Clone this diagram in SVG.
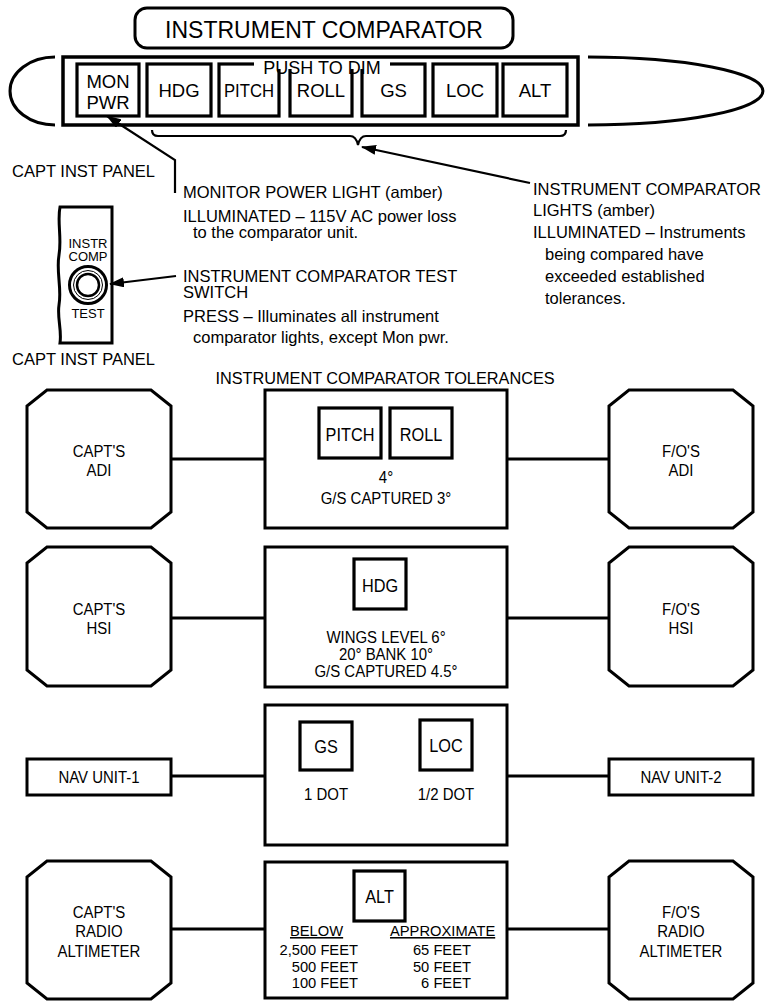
<svg xmlns="http://www.w3.org/2000/svg" width="771" height="1001" viewBox="0 0 771 1001">
  <style>
    text { font-family: "Liberation Sans", Arial, sans-serif; fill: #000; }
    .frame { fill: #fff; stroke: #000; stroke-width: 3; stroke-linejoin: miter; }
    .btn { fill: #fff; stroke: #000; stroke-width: 3.2; }
    .wire { fill: none; stroke: #000; stroke-width: 3; }
    .lead { fill: none; stroke: #000; stroke-width: 2.2; }
    .note { font-size: 16.5px; }
    .cap { font-size: 16.5px; }
    .btxt { font-size: 18.5px; text-anchor: middle; }
    /* narrow lettering used inside the tolerance blocks */
    .ntxt { font-size: 17px; text-anchor: middle; transform: scaleX(0.88); transform-box: fill-box; transform-origin: center; }
    .bt { font-size: 18.5px; }
    .small { font-size: 15.5px; transform: scaleX(0.95); transform-box: fill-box; }
    .start { transform-origin: left; }
    .end { text-anchor: end; transform-origin: right; }
  </style>
  <defs>
    <marker id="arrow" markerUnits="userSpaceOnUse" markerWidth="16" markerHeight="10" refX="14" refY="5" orient="auto">
      <path d="M0,0 L15,5 L0,10 Z" fill="#000"/>
    </marker>
  </defs>

  <!-- comparator light panel -->
  <g id="panel-title">
    <rect x="135" y="8" width="378" height="40" rx="12" class="frame"/>
    <text x="324" y="38" font-size="23" text-anchor="middle">INSTRUMENT COMPARATOR</text>
  </g>
  <g id="light-panel">
    <path d="M55 57 A45 34 0 0 0 55 125" class="wire"/>
    <path d="M588 57 A175 34 0 0 1 588 125" class="wire"/>
    <rect x="63" y="57" width="515" height="68" fill="#fff" stroke="#000" stroke-width="3.5"/>
  </g>
  <g id="btn-monpwr">
    <rect x="77" y="64" width="62" height="52" class="btn"/>
    <text x="108" y="88" class="btxt">MON</text>
    <text x="108" y="109" class="btxt">PWR</text>
  </g>
  <g id="btn-hdg">
    <rect x="147" y="64" width="64" height="52" class="btn"/>
    <text x="179" y="97" class="btxt">HDG</text>
  </g>
  <g id="btn-pitch">
    <rect x="219" y="64" width="60" height="52" class="btn"/>
    <text x="249" y="97" class="btxt" textLength="50" lengthAdjust="spacingAndGlyphs">PITCH</text>
  </g>
  <g id="btn-roll">
    <rect x="290" y="64" width="62" height="52" class="btn"/>
    <text x="321" y="97" class="btxt">ROLL</text>
  </g>
  <g id="btn-gs">
    <rect x="362" y="64" width="63" height="52" class="btn"/>
    <text x="393.5" y="97" class="btxt">GS</text>
  </g>
  <g id="btn-loc">
    <rect x="433" y="64" width="64" height="52" class="btn"/>
    <text x="465" y="97" class="btxt">LOC</text>
  </g>
  <g id="btn-alt">
    <rect x="503" y="64" width="64" height="52" class="btn"/>
    <text x="535" y="97" class="btxt">ALT</text>
  </g>
  <g id="push-to-dim">
    <rect x="254" y="60" width="136" height="9" fill="#fff"/>
    <text x="322" y="74" font-size="18" text-anchor="middle">PUSH TO DIM</text>
  </g>

  <!-- test switch -->
  <g id="test-switch">
    <path d="M112 207 L60 207 C57 222 62 238 59 255 C56 272 62 288 59 305 C57 318 62 330 60 343 L112 343 Z" class="frame"/>
    <text x="88" y="248" font-size="13" text-anchor="middle">INSTR</text>
    <text x="88" y="261" font-size="13" text-anchor="middle">COMP</text>
    <circle cx="88" cy="285" r="18.5" fill="#fff" stroke="#000" stroke-width="3"/>
    <circle cx="88" cy="285" r="14.5" fill="none" stroke="#000" stroke-width="1"/>
    <circle cx="88" cy="285" r="11" fill="#fff" stroke="#000" stroke-width="2.5"/>
    <text x="88" y="318" font-size="13" text-anchor="middle">TEST</text>
  </g>

  <!-- callout text -->
  <g id="callouts">
    <text x="12" y="177" class="cap">CAPT INST PANEL</text>
    <text x="12" y="365" class="cap">CAPT INST PANEL</text>
    <text x="183" y="198" class="note">MONITOR POWER LIGHT (amber)</text>
    <text x="183" y="222" class="note">ILLUMINATED – 115V AC power loss</text>
    <text x="193" y="238" class="note">to the comparator unit.</text>
    <text x="183" y="282" class="note">INSTRUMENT COMPARATOR TEST</text>
    <text x="183" y="298" class="note">SWITCH</text>
    <text x="183" y="322" class="note">PRESS – Illuminates all instrument</text>
    <text x="193" y="343" class="note">comparator lights, except Mon pwr.</text>
    <text x="533" y="195" class="note">INSTRUMENT COMPARATOR</text>
    <text x="533" y="216" class="note">LIGHTS (amber)</text>
    <text x="533" y="238" class="note">ILLUMINATED – Instruments</text>
    <text x="545" y="260" class="note">being compared have</text>
    <text x="545" y="282" class="note">exceeded established</text>
    <text x="545" y="304" class="note">tolerances.</text>
    <text x="385" y="384" font-size="16.3" text-anchor="middle">INSTRUMENT COMPARATOR TOLERANCES</text>
  </g>

  <!-- leader lines and brace -->
  <g id="leaders">
    <path d="M152 130 Q152 136 158 136 L350 136 Q356 136 358 145 Q360 136 366 136 L560 136 Q566 136 566 130" class="lead"/>
    <path d="M530 183 L362 147" class="lead" marker-end="url(#arrow)"/>
    <path d="M175 193 L175 160 L107 116" class="lead" marker-end="url(#arrow)"/>
    <path d="M176 276 L110 284" class="lead" marker-end="url(#arrow)"/>
  </g>

  <!-- tolerance rows -->
  <g id="capt-adi">
    <polygon points="47,390 151,390 171,406 171,512 151,528 47,528 27,512 27,406" class="frame"/>
    <text x="99" y="457" class="ntxt">CAPT'S</text>
    <text x="99" y="476" class="ntxt">ADI</text>
  </g>
  <g id="cmp-attitude">
    <rect x="265" y="390" width="242" height="138" class="frame"/>
    <rect x="319" y="408" width="62" height="50" class="btn"/>
    <text x="350" y="441" class="ntxt bt">PITCH</text>
    <rect x="390" y="408" width="62" height="50" class="btn"/>
    <text x="421" y="441" class="ntxt bt">ROLL</text>
    <text x="386" y="483" class="ntxt">4°</text>
    <text x="386" y="504" class="ntxt">G/S CAPTURED 3°</text>
  </g>
  <g id="fo-adi">
    <polygon points="629,390 733,390 753,406 753,512 733,528 629,528 609,512 609,406" class="frame"/>
    <text x="681" y="457" class="ntxt">F/O'S</text>
    <text x="681" y="476" class="ntxt">ADI</text>
  </g>

  <g id="capt-hsi">
    <polygon points="47,547 151,547 171,563 171,670 151,686 47,686 27,670 27,563" class="frame"/>
    <text x="99" y="615" class="ntxt">CAPT'S</text>
    <text x="99" y="634" class="ntxt">HSI</text>
  </g>
  <g id="cmp-heading">
    <rect x="265" y="547" width="242" height="140" class="frame"/>
    <rect x="354" y="559" width="52" height="50" class="btn"/>
    <text x="380" y="592" class="ntxt bt">HDG</text>
    <text x="386" y="643" class="ntxt">WINGS LEVEL 6°</text>
    <text x="386" y="660" class="ntxt">20° BANK 10°</text>
    <text x="386" y="677" class="ntxt">G/S CAPTURED 4.5°</text>
  </g>
  <g id="fo-hsi">
    <polygon points="629,547 733,547 753,563 753,670 733,686 629,686 609,670 609,563" class="frame"/>
    <text x="681" y="615" class="ntxt">F/O'S</text>
    <text x="681" y="634" class="ntxt">HSI</text>
  </g>

  <g id="nav-unit-1">
    <rect x="27" y="759" width="144" height="36" class="frame"/>
    <text x="99" y="783" class="ntxt">NAV UNIT-1</text>
  </g>
  <g id="cmp-nav">
    <rect x="265" y="705" width="242" height="140" class="frame"/>
    <rect x="300" y="722" width="52" height="48" class="btn"/>
    <text x="326" y="753" class="ntxt bt">GS</text>
    <rect x="420" y="720" width="52" height="50" class="btn"/>
    <text x="446" y="752" class="ntxt bt">LOC</text>
    <text x="326" y="800" class="ntxt">1 DOT</text>
    <text x="446" y="800" class="ntxt">1/2 DOT</text>
  </g>
  <g id="nav-unit-2">
    <rect x="609" y="759" width="144" height="36" class="frame"/>
    <text x="681" y="783" class="ntxt">NAV UNIT-2</text>
  </g>

  <g id="capt-radio-alt">
    <polygon points="47,861 151,861 171,877 171,983 151,999 47,999 27,983 27,877" class="frame"/>
    <text x="99" y="918" class="ntxt">CAPT'S</text>
    <text x="99" y="937" class="ntxt">RADIO</text>
    <text x="99" y="957" class="ntxt">ALTIMETER</text>
  </g>
  <g id="cmp-altitude">
    <rect x="265" y="862" width="242" height="136" class="frame"/>
    <rect x="354" y="871" width="51" height="50" class="btn"/>
    <text x="379.5" y="903" class="ntxt bt">ALT</text>
    <text x="290" y="936" class="small start" text-decoration="underline">BELOW</text>
    <text x="390" y="936" class="small start" text-decoration="underline">APPROXIMATE</text>
    <text x="358" y="955" class="small end">2,500 FEET</text>
    <text x="358" y="972" class="small end">500 FEET</text>
    <text x="358" y="988" class="small end">100 FEET</text>
    <text x="471" y="955" class="small end">65 FEET</text>
    <text x="471" y="972" class="small end">50 FEET</text>
    <text x="471" y="988" class="small end">6 FEET</text>
  </g>
  <g id="fo-radio-alt">
    <polygon points="629,861 733,861 753,877 753,983 733,999 629,999 609,983 609,877" class="frame"/>
    <text x="681" y="918" class="ntxt">F/O'S</text>
    <text x="681" y="937" class="ntxt">RADIO</text>
    <text x="681" y="957" class="ntxt">ALTIMETER</text>
  </g>

  <!-- signal connections -->
  <g id="connectors">
    <line x1="171" y1="459" x2="265" y2="459" class="wire"/>
    <line x1="507" y1="459" x2="609" y2="459" class="wire"/>
    <line x1="171" y1="618" x2="265" y2="618" class="wire"/>
    <line x1="507" y1="618" x2="609" y2="618" class="wire"/>
    <line x1="171" y1="776" x2="265" y2="776" class="wire"/>
    <line x1="507" y1="776" x2="609" y2="776" class="wire"/>
    <line x1="171" y1="929" x2="265" y2="929" class="wire"/>
    <line x1="507" y1="929" x2="609" y2="929" class="wire"/>
  </g>
</svg>
